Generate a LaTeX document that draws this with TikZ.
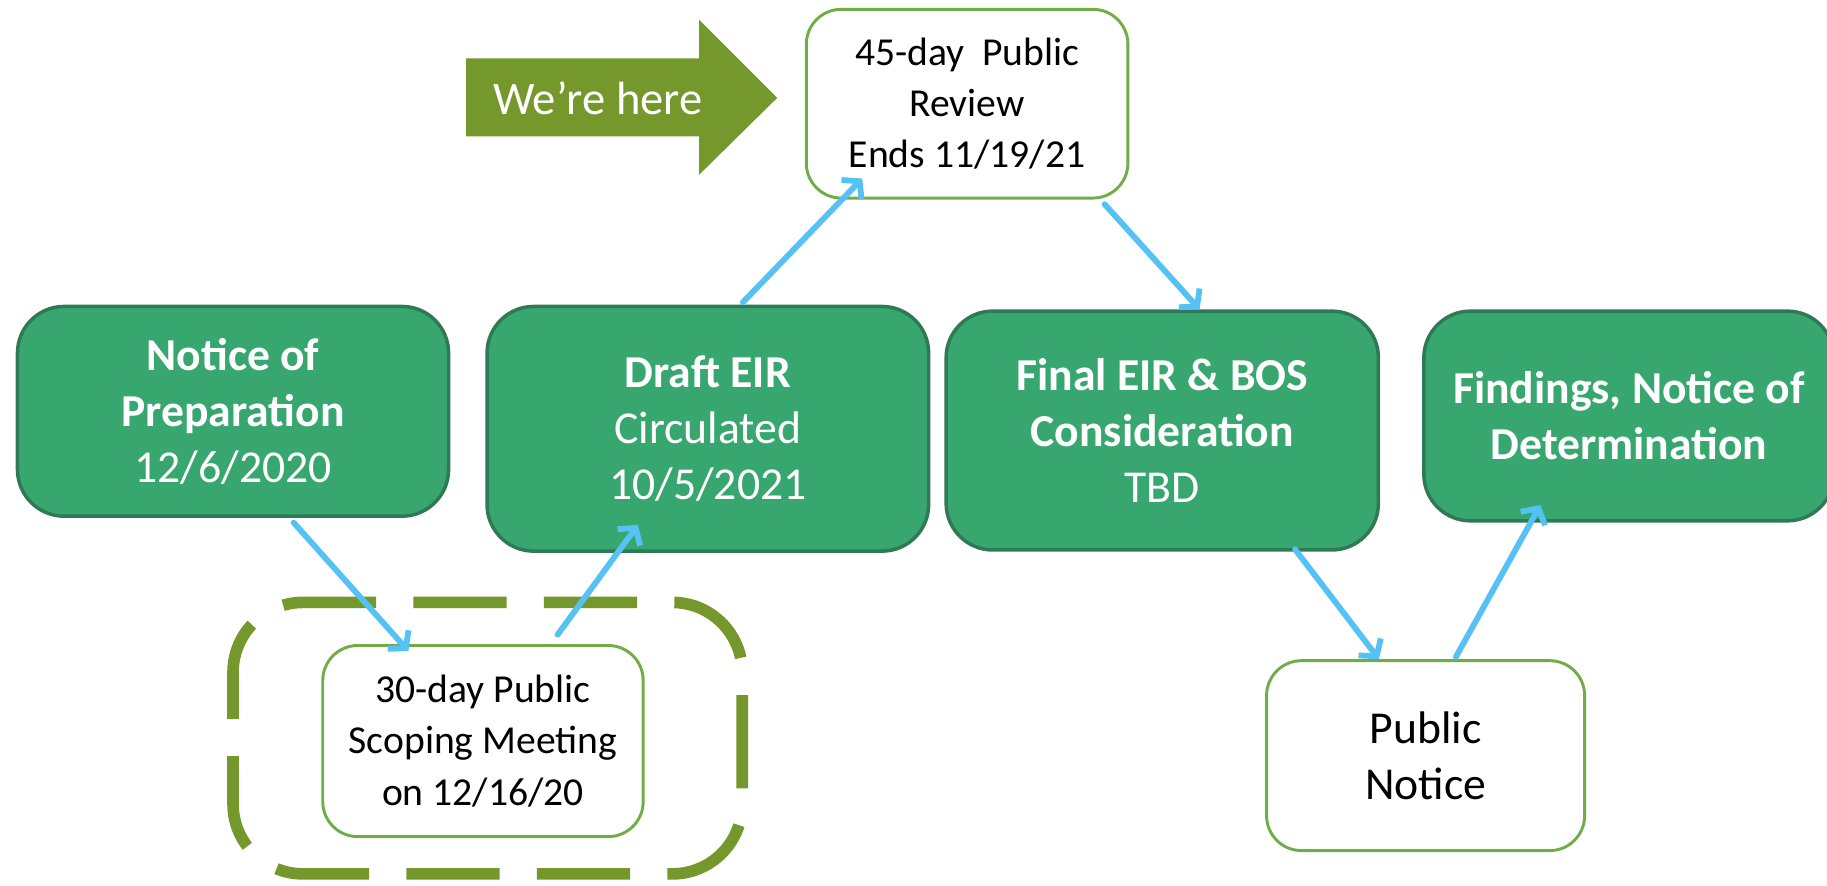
\documentclass[tikz,border=0pt]{standalone}
\usepackage{fontspec}
\setmainfont{Carlito}
\usetikzlibrary{arrows.meta}

\definecolor{boxgreen}{RGB}{56,167,111}
\definecolor{boxedge}{RGB}{46,122,84}
\definecolor{leafgreen}{RGB}{112,173,71}
\definecolor{herecol}{RGB}{116,152,43}
\definecolor{flowblue}{RGB}{86,193,245}

\tikzset{
  stage/.style={draw=boxedge, fill=boxgreen, line width=1.5pt, rounded corners=20pt,
    text=white, align=center, inner sep=0pt, font=\fontsize{19.6pt}{24pt}\selectfont},
  notebox/.style={draw=leafgreen, fill=white, line width=1.25pt, rounded corners=15pt,
    align=center, inner sep=0pt, font=\fontsize{17pt}{22pt}\selectfont},
  flow/.style={draw=flowblue, line width=2.5pt, line cap=round,
    -{Straight Barb[length=5pt,width=12pt]}}
}

\begin{document}
\begin{tikzpicture}[x=0.5pt,y=-0.5pt]
      \useasboundingbox (0,0) rectangle (1568,760);

      % stages
      \node[stage, minimum width=185pt, minimum height=90pt] (nop) at (200,353)
        {\textbf{Notice of}\\\textbf{Preparation}\\12/6/2020};
      \node[stage, minimum width=189.5pt, minimum height=105pt] (draft) at (607.5,368)
        {\textbf{Draft EIR}\\Circulated\\10/5/2021};
      \node[stage, minimum width=185.5pt, minimum height=102.5pt] (final) at (997.5,369.5)
        {\textbf{Final EIR \& BOS}\\\textbf{Consideration}\\TBD};
      \node[stage, minimum width=176pt, minimum height=90pt] (find) at (1398,357)
        {\textbf{Findings, Notice of}\\\textbf{Determination}};

      % public steps
      \node[notebox, minimum width=138pt, minimum height=81pt] (rev) at (830,89)
        {45-day~ Public\\Review\\Ends 11/19/21};
      \node[notebox, minimum width=137.5pt, minimum height=82pt] (scope) at (414.5,636)
        {30-day Public\\Scoping Meeting\\on 12/16/20};
      \node[notebox, minimum width=136.5pt, minimum height=81.5pt,
        font=\fontsize{19.6pt}{24pt}\selectfont] (pub) at (1223.5,648.5)
        {Public\\Notice};

      \draw[herecol, line width=5pt, rounded corners=30pt, dash pattern=on 40pt off 16pt,
        dash phase=20pt] (200,517) rectangle (637,750);

      % we're here
      \fill[herecol] (400,50) -- (600,50) -- (600,17) -- (667,84) -- (600,150)
        -- (600,117) -- (400,117) -- cycle;
      \node[text=white, font=\fontsize{20pt}{24pt}\selectfont] (here) at (513,84) {We’re here};

      \draw[flow] ([xshift=26pt,yshift=-2pt]nop.south) -- ([xshift=-32pt,yshift=-3pt]scope.north);
      \draw[flow] ([xshift=32pt,yshift=4pt]scope.north) -- ([xshift=-30pt,yshift=12pt]draft.south);
      \draw[flow] ([xshift=15pt,yshift=1pt]draft.north) -- ([xshift=-45pt,yshift=9pt]rev.south);
      \draw[flow] ([xshift=59pt,yshift=-2pt]rev.south) -- ([xshift=16pt]final.north);
      \draw[flow] ([xshift=57pt,yshift=1pt]final.south) -- ([xshift=-20pt]pub.north);
      \draw[flow] ([xshift=13pt,yshift=1pt]pub.north) -- ([xshift=-38pt,yshift=7.5pt]find.south);
    \end{tikzpicture}
\end{document}
